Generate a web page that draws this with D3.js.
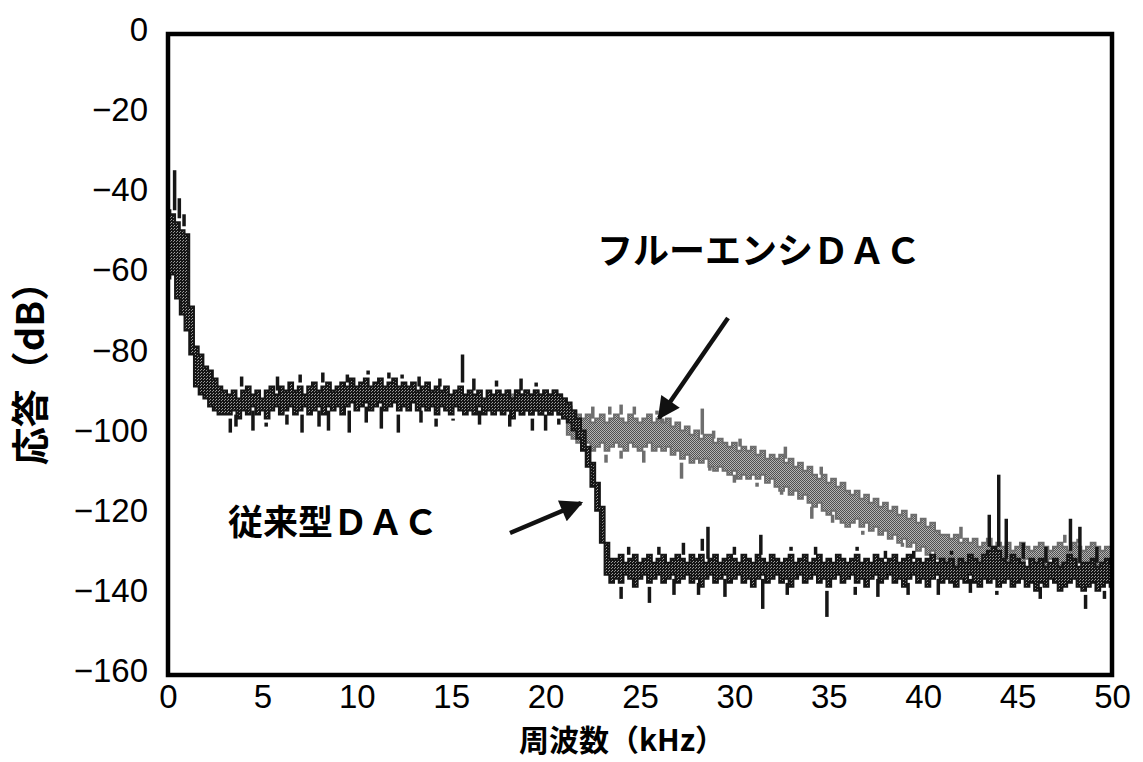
<!DOCTYPE html>
<html>
<head>
<meta charset="utf-8">
<script src="https://cdn.jsdelivr.net/npm/d3@7"></script>
<style>
  body { margin: 0; background: #fff; }
  svg { display: block; }
</style>
</head>
<body>
<div id="chart"></div>
<script>
// axis ticks
var xTicks = [0, 5, 10, 15, 20, 25, 30, 35, 40, 45, 50];
var yTicks = [0, -20, -40, -60, -80, -100, -120, -140, -160];

// conventional DAC (dark trace), FFT bins every 0.25 kHz from 0 to 50 kHz
var darkStep = 0.25;
var darkHi = [
  -44, -45, -47, -49, -50, -68, -78, -80, -83, -84, -86, -88, -89,
  -90, -89, -91, -89, -88, -90, -89, -91, -89, -88,
  -90, -88, -89, -87, -89, -88, -90, -88, -87, -89,
  -88, -87, -89, -88, -87, -88, -86, -88, -87, -86,
  -88, -87, -86, -88, -87, -86, -88, -87, -88, -87,
  -89, -88, -87, -89, -88, -89, -88, -90, -89, -88,
  -90, -89, -90, -89, -91, -89, -90, -89, -90, -89,
  -91, -89, -90, -89, -90, -89, -90, -89, -90, -89,
  -90, -91,
  -92, -94, -96, -99, -103, -107, -112, -118, -127, -131,
  -131, -130, -132, -131, -130, -132, -131, -130, -132, -131,
  -130, -132, -131, -130, -131, -132, -130, -131, -130, -132,
  -131, -130, -132, -131, -130, -131, -132, -130, -131, -132,
  -130, -131, -132, -130, -131, -132, -131, -130, -132, -131,
  -130, -132, -131, -130, -132, -131, -132, -130, -131, -132,
  -131, -130, -132, -131, -132, -130, -131, -132, -131, -130,
  -132, -131, -130, -132, -131, -132, -131, -130, -132, -131,
  -132, -131, -133, -131, -132, -130, -131, -132, -130, -129,
  -128, -129, -131, -132, -130, -131, -132, -133, -131, -132,
  -131, -133, -132, -131, -133, -132, -130, -131, -133, -132,
  -132, -131, -133, -132, -131, -132
];
var darkLo = [
  -61, -60, -66, -70, -74, -80, -88, -90, -91, -93, -94, -95, -95,
  -95, -94, -96, -94, -95, -93, -95, -94, -96, -94,
  -93, -95, -94, -93, -95, -94, -93, -95, -94, -93,
  -95, -93, -94, -93, -95, -93, -92, -94, -93, -92,
  -94, -93, -92, -94, -93, -92, -94, -93, -94, -92,
  -94, -93, -94, -93, -95, -93, -94, -95, -93, -94,
  -95, -94, -95, -93, -95, -94, -95, -94, -95, -94,
  -96, -94, -95, -94, -95, -94, -95, -94, -95, -94,
  -95, -96,
  -97, -99, -101, -104, -108, -113, -119, -127, -135, -137,
  -136, -137, -135, -136, -138, -136, -135, -137, -136, -135,
  -137, -136, -135, -137, -136, -135, -137, -136, -138, -136,
  -135, -137, -136, -135, -137, -136, -135, -137, -136, -138,
  -136, -135, -137, -136, -135, -137, -136, -138, -136, -135,
  -137, -136, -135, -137, -136, -138, -136, -135, -137, -136,
  -135, -137, -136, -138, -136, -135, -137, -136, -135, -137,
  -136, -138, -136, -135, -137, -136, -138, -136, -135, -137,
  -136, -137, -138, -136, -137, -135, -137, -138, -136, -137,
  -136, -138, -137, -136, -138, -137, -136, -138, -137, -139,
  -137, -138, -136, -137, -139, -138, -137, -136, -138, -139,
  -138, -137, -139, -138, -137, -138
];
// isolated peaks [kHz, dB]
var darkSpikesUp = [
  [0.35, -34], [0.6, -41], [0.85, -45],
  [3.9, -85.5], [5.8, -85.5], [7.0, -85], [8.2, -84.5], [9.5, -85], [10.6, -84],
  [11.7, -84.5], [12.4, -85], [13.3, -85.5], [14.4, -86], [15.6, -80], [16.2, -86],
  [17.4, -86.5], [18.7, -86], [19.5, -87],
  [24.4, -128], [26.0, -128], [27.3, -127], [28.3, -126], [28.6, -123], [30.0, -128],
  [31.4, -125], [33.0, -128], [34.3, -128], [36.5, -128], [38.0, -129], [39.5, -129],
  [41.5, -129], [43.5, -120], [44.0, -110], [44.4, -121], [45.3, -127], [46.5, -128],
  [47.8, -121], [48.3, -123], [49.2, -128]
];
var darkSpikesDown = [
  [3.3, -99.5], [3.6, -98], [4.5, -99], [5.2, -98], [6.3, -97.5], [7.1, -99.5],
  [8.0, -98], [8.5, -99], [9.6, -99.5], [10.5, -97], [11.3, -98.5], [12.2, -99.5],
  [13.4, -97], [14.2, -98], [15.1, -96.5], [16.5, -97.5], [18.1, -98], [19.3, -99],
  [20.0, -99], [20.7, -97.5],
  [24.0, -141], [25.5, -142], [26.8, -140], [28.1, -140], [29.5, -140.5], [31.5, -143.5],
  [32.8, -140], [34.9, -145.5], [36.4, -140], [37.6, -140.5], [39.2, -140], [40.8, -140],
  [42.5, -139.5], [43.9, -140], [46.2, -141], [47.3, -140], [48.6, -143.5], [49.6, -141]
];

// fluency DAC (gray trace), bins every 0.25 kHz from 18 to 50 kHz (below that it sits under the dark trace)
var grayStart = 18;
var grayStep = 0.25;
var grayHi = [
  -89, -90, -89, -90, -89, -90, -89, -90, -89, -90, -89, -90, -91,
  -93, -94, -95, -96, -95, -97, -96, -95, -97, -96, -95, -96, -97, -95, -96, -97, -96, -95, -97, -96,
  -97, -96, -98, -97, -99, -98, -100, -99, -101, -100, -100, -102, -101, -102, -103, -102, -104, -103, -104, -103,
  -105, -104, -106, -105, -106, -105, -107, -106, -108, -107, -109, -108, -110, -111, -110, -112, -111, -113, -112, -114,
  -115, -114, -116, -115, -117, -116, -118, -117, -119, -118, -120, -119, -121, -120, -122, -121, -123, -122, -124, -125,
  -125, -126, -125, -127, -126, -127, -126, -128, -127, -126, -128, -127, -128, -127, -129, -128, -127, -128, -129, -128,
  -127, -128, -129, -128, -127, -128, -129, -127, -128, -129, -128, -127, -128, -129, -128, -128
];
var grayLo = [
  -94, -95, -94, -95, -94, -95, -94, -95, -94, -95, -94, -95, -96,
  -100, -101, -102, -103, -102, -104, -103, -102, -104, -103, -102, -103, -104, -102, -103, -104, -103, -102, -104, -103,
  -104, -103, -105, -104, -106, -105, -107, -106, -107, -106, -108, -109, -108, -109, -110, -109, -111, -110, -111, -110,
  -111, -110, -112, -111, -113, -114, -113, -115, -114, -116, -115, -117, -118, -117, -119, -120, -119, -121, -122, -123,
  -122, -121, -123, -122, -124, -123, -125, -124, -126, -125, -127, -126, -128, -127, -129, -128, -130, -129, -131, -131,
  -132, -131, -133, -132, -134, -133, -134, -133, -132, -134, -133, -132, -133, -132, -131, -133, -132, -131, -132, -133,
  -132, -133, -131, -132, -133, -132, -131, -133, -132, -133, -132, -131, -133, -132, -133, -132
];
var graySpikesUp = [
  [22.5, -93], [23.4, -93], [24.0, -92.5], [24.7, -93], [25.9, -94], [26.2, -97],
  [28.3, -93.5], [28.9, -99], [30.3, -101], [32.7, -103], [34.6, -108], [37.5, -115],
  [39.5, -119], [42.0, -123], [47.5, -125], [48.2, -126]
];
var graySpikesDown = [
  [22.3, -107], [23.2, -107], [24.0, -106], [25.2, -107], [27.2, -111], [28.7, -108],
  [30.0, -112], [31.2, -113], [32.5, -114], [34.1, -121], [35.2, -122], [36.8, -125],
  [38.9, -128], [40.8, -133]
];

var width = 1143, height = 762;
var margin = { left: 168, right: 31, top: 34, bottom: 87 };

var svg = d3.select('#chart')
  .append('svg')
  .attr('width', width)
  .attr('height', height);

var x = d3.scaleLinear().domain([0, 50]).range([margin.left, width - margin.right]);
var y = d3.scaleLinear().domain([-160, 0]).range([height - margin.bottom, margin.top]);

// halftone-like fills, the original is a scanned print
var defs = svg.append('defs');
var darkTex = defs.append('pattern').attr('id', 'darkTex')
  .attr('width', 3).attr('height', 3).attr('patternUnits', 'userSpaceOnUse');
darkTex.append('rect').attr('width', 3).attr('height', 3).attr('fill', '#151515');
darkTex.append('rect').attr('x', 0).attr('y', 0).attr('width', 1).attr('height', 1).attr('fill', '#a0a0a0');
darkTex.append('rect').attr('x', 2).attr('y', 1).attr('width', 1).attr('height', 1).attr('fill', '#8a8a8a');
var grayTex = defs.append('pattern').attr('id', 'grayTex')
  .attr('width', 2).attr('height', 2).attr('patternUnits', 'userSpaceOnUse');
grayTex.append('rect').attr('width', 2).attr('height', 2).attr('fill', '#505050');
grayTex.append('rect').attr('x', 1).attr('y', 0).attr('width', 1).attr('height', 1).attr('fill', '#b0b0b0');
grayTex.append('rect').attr('x', 0).attr('y', 1).attr('width', 1).attr('height', 1).attr('fill', '#b8b8b8');

defs.append('clipPath').attr('id', 'plotClip')
  .append('rect')
  .attr('x', margin.left).attr('y', margin.top)
  .attr('width', width - margin.left - margin.right)
  .attr('height', height - margin.top - margin.bottom);

function toRows(start, step, hi, lo) {
  return hi.map(function (h, i) {
    return { f: start + i * step, hi: h, lo: lo[i] };
  });
}
var darkRows = toRows(0, darkStep, darkHi, darkLo);
var grayRows = toRows(grayStart, grayStep, grayHi, grayLo);

function nearest(rows, f) {
  var i = d3.bisector(function (d) { return d.f; }).center(rows, f);
  return rows[i];
}

var band = d3.area()
  .x(function (d) { return x(d.f); })
  .y0(function (d) { return y(d.lo); })
  .y1(function (d) { return y(d.hi); })
  .curve(d3.curveStep);

var plot = svg.append('g').attr('clip-path', 'url(#plotClip)');

function drawTrace(rows, up, down, texture, color) {
  var g = plot.append('g');
  g.append('path')
    .datum(rows)
    .attr('d', band)
    .attr('fill', 'url(#' + texture + ')')
    .attr('stroke', color)
    .attr('stroke-width', 2);
  var spikes = up.map(function (s) { return { f: s[0], tip: s[1], base: nearest(rows, s[0]).hi + 1 }; })
    .concat(down.map(function (s) { return { f: s[0], tip: s[1], base: nearest(rows, s[0]).lo - 1 }; }));
  g.selectAll('line.spike')
    .data(spikes)
    .enter()
    .append('line')
    .attr('class', 'spike')
    .attr('x1', function (d) { return x(d.f); })
    .attr('x2', function (d) { return x(d.f); })
    .attr('y1', function (d) { return y(d.base); })
    .attr('y2', function (d) { return y(d.tip); })
    .attr('stroke', color)
    .attr('stroke-width', 3.5);
}

drawTrace(grayRows, graySpikesUp, graySpikesDown, 'grayTex', '#6e6e6e');
drawTrace(darkRows, darkSpikesUp, darkSpikesDown, 'darkTex', '#161616');

// frame
svg.append('rect')
  .attr('x', margin.left)
  .attr('y', margin.top)
  .attr('width', width - margin.left - margin.right)
  .attr('height', height - margin.top - margin.bottom)
  .attr('fill', 'none')
  .attr('stroke', '#000')
  .attr('stroke-width', 4.5);

var tickFont = '"Liberation Sans", Arial, sans-serif';

var xAxis = svg.append('g')
  .attr('transform', 'translate(0,' + (height - margin.bottom) + ')')
  .call(d3.axisBottom(x).tickValues(xTicks).tickSize(0).tickPadding(10));
var yAxis = svg.append('g')
  .attr('transform', 'translate(' + margin.left + ',0)')
  .call(d3.axisLeft(y).tickValues(yTicks).tickSize(0).tickPadding(20));

[xAxis, yAxis].forEach(function (a) {
  a.select('.domain').remove();
  a.selectAll('text')
    .attr('fill', '#000')
    .style('font-family', tickFont)
    .style('font-size', '33px');
});
yAxis.selectAll('text').attr('dy', '0.2em');

var cjk = '"Noto Sans CJK JP", "Noto Sans CJK SC", sans-serif';

// axis titles
svg.append('text')
  .attr('transform', 'translate(44,364) rotate(-90)')
  .attr('text-anchor', 'middle')
  .style('font-family', cjk)
  .style('font-weight', 700)
  .style('font-size', '38px')
  .text('応答（dB）');

svg.append('text')
  .attr('x', 622)
  .attr('y', 751)
  .attr('text-anchor', 'middle')
  .style('font-family', cjk)
  .style('font-weight', 700)
  .style('font-size', '30px')
  .text('周波数（kHz）');

// annotations
svg.append('text')
  .attr('x', 597)
  .attr('y', 264)
  .style('font-family', cjk)
  .style('font-weight', 700)
  .style('font-size', '36px')
  .text('フルーエンシＤＡＣ');

svg.append('text')
  .attr('x', 228)
  .attr('y', 535)
  .style('font-family', cjk)
  .style('font-weight', 700)
  .style('font-size', '35px')
  .text('従来型ＤＡＣ');

defs.append('marker')
  .attr('id', 'head')
  .attr('viewBox', '0 0 10 10')
  .attr('refX', 9).attr('refY', 5)
  .attr('markerWidth', 6).attr('markerHeight', 5)
  .attr('markerUnits', 'strokeWidth')
  .attr('orient', 'auto')
  .append('path')
  .attr('d', 'M0,0 L10,5 L0,10 Z')
  .attr('fill', '#111');

var arrows = [
  [[728, 318], [659, 418]],
  [[510, 533], [581, 503]]
];
svg.selectAll('line.arrow')
  .data(arrows)
  .enter()
  .append('line')
  .attr('class', 'arrow')
  .attr('x1', function (d) { return d[0][0]; })
  .attr('y1', function (d) { return d[0][1]; })
  .attr('x2', function (d) { return d[1][0]; })
  .attr('y2', function (d) { return d[1][1]; })
  .attr('stroke', '#111')
  .attr('stroke-width', 4.5)
  .attr('marker-end', 'url(#head)');
</script>
</body>
</html>
